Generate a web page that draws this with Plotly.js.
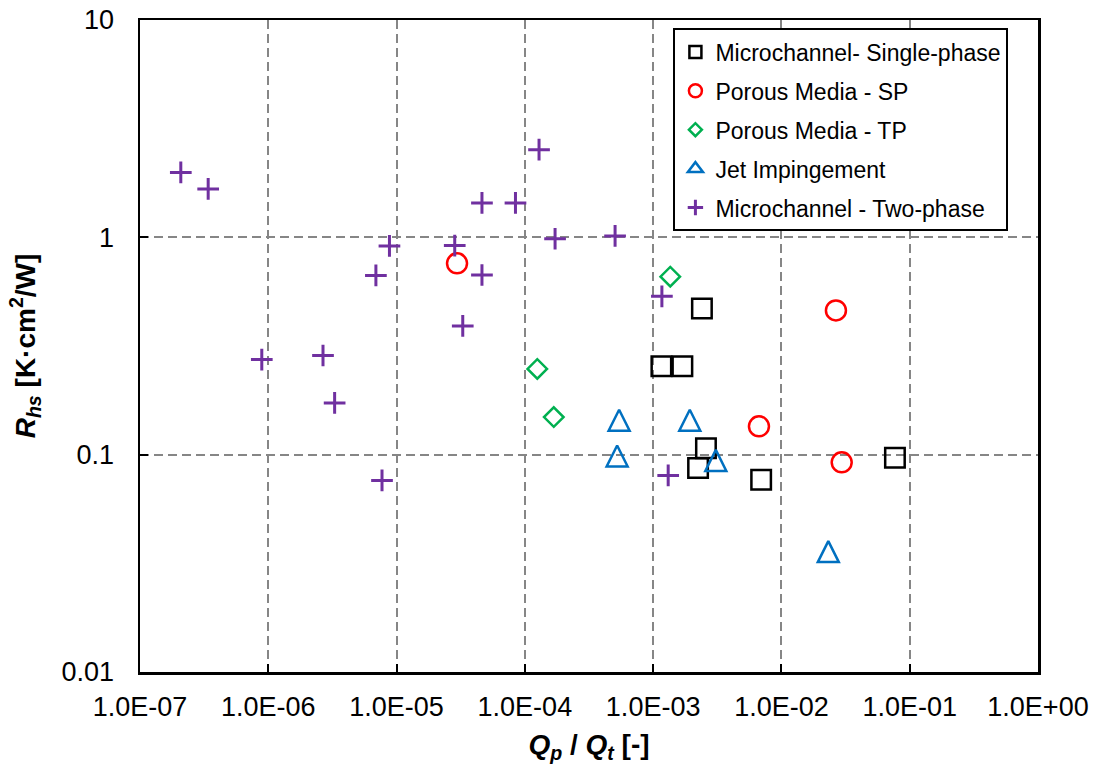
<!DOCTYPE html>
<html><head><meta charset="utf-8">
<script src="https://cdn.plot.ly/plotly-3.0.1.min.js"></script>
<style>body{margin:0;background:#fff}#c{width:1099px;height:772px}</style>
</head><body><div id="c"></div>
<script>
const seriesNames = ["Microchannel- Single-phase","Porous Media - SP","Porous Media - TP","Jet Impingement","Microchannel - Two-phase"];
const mcspX = [2.40e-3,1.16e-3,1.69e-3,2.58e-3,2.24e-3,6.95e-3,7.67e-2];
const mcspY = [0.471,0.255,0.255,0.107,0.0869,0.0767,0.0969];
const pmspX = [2.96e-5,2.66e-2,6.68e-3,2.95e-2];
const pmspY = [0.759,0.461,0.135,0.0922];
const pmtpX = [1.25e-4,1.68e-4,1.36e-3];
const pmtpY = [0.248,0.149,0.659];
const jetX = [5.43e-4,5.24e-4,1.93e-3,3.08e-3,2.32e-2];
const jetY = [0.144,0.0986,0.144,0.0941,0.0358];
const mctpX = [2.08e-7,3.4e-7,8.9e-7,2.67e-6,3.29e-6,6.9e-6,8.8e-6,7.7e-6,2.84e-5,3.28e-5,4.63e-5,4.63e-5,8.45e-5,1.29e-4,1.72e-4,5.05e-4,1.17e-3,1.31e-3];
const mctpY = [1.99,1.67,0.274,0.286,0.173,0.668,0.913,0.0761,0.916,0.391,1.44,0.671,1.44,2.53,0.985,1.015,0.535,0.0803];
const xTickVals = [1e-7,1e-6,1e-5,1e-4,1e-3,1e-2,1e-1,1e0];
const xTickText = ["1.0E-07","1.0E-06","1.0E-05","1.0E-04","1.0E-03","1.0E-02","1.0E-01","1.0E+00"];
const yTickVals = [0.01,0.1,1,10];
const yTickText = ["0.01","0.1","1","10"];

const styles = [
  {symbol:'square-open', color:'#000000', size:19.5, lsym:'square-open', lsize:12, lw:2.5},
  {symbol:'circle-open', color:'#FF0000', size:20, lsym:'circle-open', lsize:13, lw:2.5},
  {symbol:'diamond-open', color:'#00B050', size:15, lsym:'diamond-open', lsize:10, lw:2.5},
  {symbol:'arrow-down-open', color:'#0070C0', size:21, lsym:'triangle-up-open', lsize:13, lw:2.5, angle:180, standoff:10.5},
  {symbol:'cross-thin-open', color:'#7030A0', size:15.5, lsym:'cross-thin-open', lsize:11, lw:3}
];
const xs = [mcspX,pmspX,pmtpX,jetX,mctpX];
const ys = [mcspY,pmspY,pmtpY,jetY,mctpY];
const traces = [];
for (let i=0;i<5;i++){
  const s = styles[i];
  const m = {symbol:s.symbol, size:s.size, color:s.color, line:{color:s.color,width:s.lw}};
  if (s.angle !== undefined) { m.angle = s.angle; m.standoff = s.standoff; }
  traces.push({x:xs[i], y:ys[i], type:'scatter', mode:'markers', showlegend:false, marker:m, hoverinfo:'x+y'});
}
for (let i=0;i<5;i++){
  const s = styles[i];
  traces.push({x:[null], y:[null], type:'scatter', mode:'markers', name:seriesNames[i], legendgroup:'g'+i,
    marker:{symbol:s.lsym, size:s.lsize, color:s.color, line:{color:s.color,width:s.lw}}});
}
const FONT = 'Arial, "Liberation Sans", sans-serif';
const layout = {
  width:1099, height:772,
  margin:{l:140, r:61, t:20, b:100},
  paper_bgcolor:'#fff', plot_bgcolor:'#fff',
  font:{family:FONT, size:24, color:'#000'},
  showlegend:true,
  legend:{x:0.594, y:0.987, xanchor:'left', yanchor:'top', bgcolor:'#fff', bordercolor:'#000', borderwidth:2,
    font:{family:FONT, size:23, color:'#000'}, traceorder:'grouped', tracegroupgap:6, itemwidth:30},
  xaxis:{type:'log', range:[-7,0], tickvals:xTickVals, ticktext:xTickText, ticks:'inside', ticklen:8, tickwidth:2, tickcolor:'#000',
    showline:true, linecolor:'#000', linewidth:2.5, mirror:true, showgrid:true, gridcolor:'#868686', gridwidth:2, griddash:'9px,5px',
    zeroline:false, ticklabelstandoff:9, tickfont:{family:FONT,size:27},
    title:{text:'<b><i>Q</i><sub><i>p</i></sub> / <i>Q</i><sub><i>t</i></sub> [-]</b>', font:{family:FONT,size:28}, standoff:14}},
  yaxis:{type:'log', range:[-2,1], tickvals:yTickVals, ticktext:yTickText, ticks:'inside', ticklen:8, tickwidth:2, tickcolor:'#000',
    showline:true, linecolor:'#000', linewidth:2.5, mirror:true, showgrid:true, gridcolor:'#868686', gridwidth:2, griddash:'9px,5px',
    zeroline:false, ticklabelstandoff:18, tickfont:{family:FONT,size:27},
    title:{text:'<b><i>R</i><sub><i>hs</i></sub> [K·cm<sup>2</sup>/W]</b>', font:{family:FONT,size:28}, standoff:18}}
};
Plotly.newPlot('c', traces, layout, {displayModeBar:false, staticPlot:true});
</script></body></html>
